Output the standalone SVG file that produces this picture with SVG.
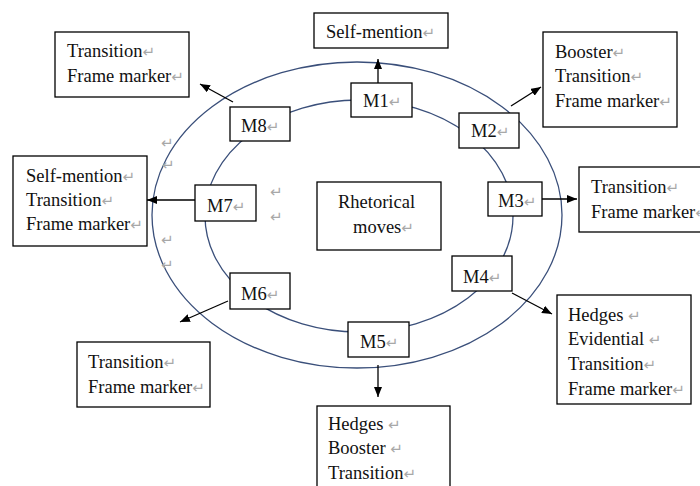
<svg xmlns="http://www.w3.org/2000/svg" width="700" height="486" viewBox="0 0 700 486">
<defs>
<style>
.box{fill:#fff;stroke:#000;stroke-width:1.3}
.ell{fill:none;stroke:#3a4f7a;stroke-width:1.3}
.con{stroke:#000;stroke-width:1.3;fill:none}
text{font-family:"Liberation Serif","Times New Roman",serif;font-size:18.5px;fill:#111}
.pm{font-family:"DejaVu Sans",sans-serif;font-size:15px;fill:#a8a8a8}
</style>
<marker id="ah" viewBox="0 0 10 8" refX="10" refY="4" markerWidth="10" markerHeight="8" markerUnits="userSpaceOnUse" orient="auto">
<path d="M0,0 L10,4 L0,8 z" fill="#000"/>
</marker>
</defs>
<rect width="700" height="486" fill="#fff"/>
<g id="rings">
<ellipse class="ell" cx="357" cy="215" rx="205" ry="153"/>
<ellipse class="ell" cx="359" cy="216" rx="154" ry="116"/>
</g>
<g id="stray-marks">
<text class="pm" x="161" y="148">↵</text>
<text class="pm" x="162" y="170">↵</text>
<text class="pm" x="270" y="197">↵</text>
<text class="pm" x="270" y="222">↵</text>
<text class="pm" x="161" y="245">↵</text>
<text class="pm" x="161" y="270">↵</text>
</g>
<g id="connectors">
<line class="con" x1="378" y1="83" x2="378" y2="59" marker-end="url(#ah)"/>
<line class="con" x1="511" y1="106" x2="541" y2="87" marker-end="url(#ah)"/>
<line class="con" x1="542" y1="199" x2="577" y2="199" marker-end="url(#ah)"/>
<line class="con" x1="512" y1="293" x2="552" y2="314" marker-end="url(#ah)"/>
<line class="con" x1="378" y1="365" x2="378" y2="397" marker-end="url(#ah)"/>
<line class="con" x1="228" y1="301" x2="180" y2="322" marker-end="url(#ah)"/>
<line class="con" x1="195" y1="200" x2="147" y2="200" marker-end="url(#ah)"/>
<line class="con" x1="233" y1="102" x2="200" y2="84" marker-end="url(#ah)"/>
</g>
<g id="center">
<rect class="box" x="317" y="182" width="124" height="68"/>
<text x="338" y="208">Rhetorical</text>
<text x="353" y="233">moves<tspan class="pm">↵</tspan></text>
</g>
<g id="M1"><rect class="box" x="351" y="83" width="61" height="34"/><text x="363" y="107">M1<tspan class="pm">↵</tspan></text></g>
<g id="M2"><rect class="box" x="459" y="113" width="60" height="35"/><text x="471" y="137">M2<tspan class="pm">↵</tspan></text></g>
<g id="M3"><rect class="box" x="488" y="182" width="54" height="34"/><text x="498" y="207">M3<tspan class="pm">↵</tspan></text></g>
<g id="M4"><rect class="box" x="452" y="256" width="60" height="35"/><text x="463" y="283">M4<tspan class="pm">↵</tspan></text></g>
<g id="M5"><rect class="box" x="348" y="322" width="61" height="35"/><text x="360" y="348">M5<tspan class="pm">↵</tspan></text></g>
<g id="M6"><rect class="box" x="230" y="273" width="60" height="36"/><text x="241" y="300">M6<tspan class="pm">↵</tspan></text></g>
<g id="M7"><rect class="box" x="195" y="185" width="61" height="36"/><text x="207" y="212">M7<tspan class="pm">↵</tspan></text></g>
<g id="M8"><rect class="box" x="230" y="107" width="60" height="34"/><text x="241" y="132">M8<tspan class="pm">↵</tspan></text></g>
<g id="out-M1"><rect class="box" x="314" y="13" width="134" height="35"/><text x="326" y="38">Self-mention<tspan class="pm">↵</tspan></text></g>
<g id="out-M2"><rect class="box" x="543" y="32" width="134" height="95"/>
<text x="555" y="58">Booster<tspan class="pm">↵</tspan></text>
<text x="555" y="82">Transition<tspan class="pm">↵</tspan></text>
<text x="555" y="107">Frame marker<tspan class="pm">↵</tspan></text></g>
<g id="out-M3"><rect class="box" x="579" y="167" width="125" height="65"/>
<text x="591" y="193">Transition<tspan class="pm">↵</tspan></text>
<text x="591" y="218">Frame marker<tspan class="pm">↵</tspan></text></g>
<g id="out-M4"><rect class="box" x="557" y="295" width="134" height="109"/>
<text x="568" y="321">Hedges <tspan class="pm">↵</tspan></text>
<text x="568" y="345">Evidential <tspan class="pm">↵</tspan></text>
<text x="568" y="370">Transition<tspan class="pm">↵</tspan></text>
<text x="568" y="395">Frame marker<tspan class="pm">↵</tspan></text></g>
<g id="out-M5"><rect class="box" x="317" y="406" width="133" height="90"/>
<text x="328" y="430">Hedges <tspan class="pm">↵</tspan></text>
<text x="328" y="454">Booster <tspan class="pm">↵</tspan></text>
<text x="328" y="479">Transition<tspan class="pm">↵</tspan></text></g>
<g id="out-M6"><rect class="box" x="77" y="342" width="133" height="65"/>
<text x="88" y="368">Transition<tspan class="pm">↵</tspan></text>
<text x="88" y="393">Frame marker<tspan class="pm">↵</tspan></text></g>
<g id="out-M7"><rect class="box" x="13" y="156" width="134" height="90"/>
<text x="26" y="182">Self-mention<tspan class="pm">↵</tspan></text>
<text x="26" y="206">Transition<tspan class="pm">↵</tspan></text>
<text x="26" y="230">Frame marker<tspan class="pm">↵</tspan></text></g>
<g id="out-M8"><rect class="box" x="55" y="32" width="134" height="65"/>
<text x="67" y="57">Transition<tspan class="pm">↵</tspan></text>
<text x="67" y="82">Frame marker<tspan class="pm">↵</tspan></text></g>
</svg>
